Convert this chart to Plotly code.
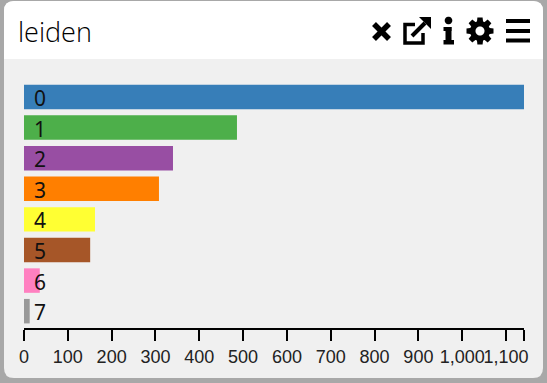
import math
import plotly.graph_objects as go

W, H = 547, 383
categories = ["0", "1", "2", "3", "4", "5", "6", "7"]
values = [1141, 486, 340, 308, 162, 151, 36, 13]
colors = ["#377eb8", "#4daf4a", "#984ea3", "#ff7f00", "#ffff33", "#a65628", "#ff80c0", "#999999"]
tick_vals = [0, 100, 200, 300, 400, 500, 600, 700, 800, 900, 1000, 1100, 1141]
tick_text = ["0", "100", "200", "300", "400", "500", "600", "700", "800", "900", "1,000", "1,100", ""]
title = "leiden"

def px(x): return x / W
def py(y): return 1 - y / H
def P(x, y): return f"{px(x):.5f} {py(y):.5f}"

def rounded(x0, y0, x1, y1, tl, tr, br, bl):
    return (f"M {P(x0+tl,y0)} L {P(x1-tr,y0)} Q {P(x1,y0)} {P(x1,y0+tr)} "
            f"L {P(x1,y1-br)} Q {P(x1,y1)} {P(x1-br,y1)} "
            f"L {P(x0+bl,y1)} Q {P(x0,y1)} {P(x0,y1-bl)} "
            f"L {P(x0,y0+tl)} Q {P(x0,y0)} {P(x0+tl,y0)} Z")

def shape_path(d, fill=None, line=None, w=0):
    return dict(type="path", xref="paper", yref="paper", path=d, layer="below",
                fillcolor=fill or "rgba(0,0,0,0)",
                line=dict(color=line or "rgba(0,0,0,0)", width=w))

def seg(x0, y0, x1, y1, w=4, cap=None):
    return shape_path(f"M {P(x0,y0)} L {P(x1,y1)}", line="#000", w=w)

def rect(x0, y0, x1, y1, fill):
    return shape_path(f"M {P(x0,y0)} L {P(x1,y0)} L {P(x1,y1)} L {P(x0,y1)} Z", fill=fill)

def poly(points, fill="#000"):
    return shape_path("M " + " L ".join(P(a, b) for a, b in points) + " Z", fill=fill)

def circle(cx, cy, r, fill):
    pts = [(cx + r*math.cos(i*math.pi/16), cy + r*math.sin(i*math.pi/16)) for i in range(32)]
    return poly(pts, fill)

shapes = []
# card
shapes.append(shape_path(rounded(4, 1, 543, 378, 10, 10, 10, 10), fill="#f0f0f0"))
shapes.append(shape_path(rounded(4, 1, 543, 59, 10, 10, 0, 0), fill="#ffffff"))
# close
shapes.append(seg(374, 24, 389, 39, 5.5))
shapes.append(seg(389, 24, 374, 39, 5.5))
# external link
shapes.append(shape_path(f"M {P(415,24.5)} L {P(405,24.5)} L {P(405,43)} L {P(423,43)} L {P(423,33)}", line="#000", w=3.5))
shapes.append(seg(412, 36, 425, 23, 4))
shapes.append(poly([(419, 17), (431, 17), (431, 29)]))
# info
shapes.append(circle(448.5, 20.5, 3.8, "#000"))
shapes.append(rect(443.5, 27, 451.5, 31, "#000"))
shapes.append(rect(445.5, 27, 451.5, 41, "#000"))
shapes.append(rect(443.5, 40, 454, 44.5, "#000"))
# gear
gx, gy = 480, 31
for k in range(8):
    a = k * math.pi / 4
    c, s = math.cos(a), math.sin(a)
    shapes.append(poly([(gx + 8*c - 3.2*s, gy + 8*s + 3.2*c), (gx + 13.5*c - 2.6*s, gy + 13.5*s + 2.6*c),
                        (gx + 13.5*c + 2.6*s, gy + 13.5*s - 2.6*c), (gx + 8*c + 3.2*s, gy + 8*s - 3.2*c)]))
shapes.append(circle(gx, gy, 10, "#000"))
shapes.append(circle(gx, gy, 4.5, "#ffffff"))
# menu
for yy in (21, 31, 40.5):
    shapes.append(rect(506, yy - 2, 530, yy + 2, "#000"))

fig = go.Figure()
fig.add_trace(go.Bar(
    x=values, y=categories, orientation="h",
    marker=dict(color=colors, line=dict(width=0)),
    width=0.8, hoverinfo="skip",
))
annotations = [
    dict(x=0, y=c, xref="x", yref="y", text=c, showarrow=False, xanchor="left", xshift=8, yshift=-1,
         font=dict(family="Noto Sans", size=21, color="#111"))
    for c in categories
]
annotations.append(dict(x=px(16), y=py(32), xref="paper", yref="paper", text=title, showarrow=False,
                        xanchor="left", yanchor="middle",
                        font=dict(family="Open Sans", size=27, color="#000", weight=300)))
fig.update_layout(
    width=W, height=H, margin=dict(l=0, r=0, t=0, b=0, pad=0), autosize=False,
    paper_bgcolor="#a8a8a8", plot_bgcolor="rgba(0,0,0,0)", showlegend=False,
    shapes=shapes, annotations=annotations,
    xaxis=dict(domain=[px(24), px(524)], range=[0, 1141], tickmode="array", tickvals=tick_vals, ticktext=tick_text,
               showgrid=False, zeroline=False, showline=True, linecolor="#000", linewidth=2,
               ticks="outside", ticklen=11, tickwidth=2, tickcolor="#000", anchor="y",
               automargin=False, tickangle=0,
               tickfont=dict(family="Liberation Sans", size=18, color="#222")),
    yaxis=dict(domain=[py(328), py(81.7)], range=[7.55, -0.5], type="category", categoryorder="array",
               categoryarray=categories, showticklabels=False, showgrid=False, zeroline=False, ticks="",
               showline=False, automargin=False),
)
fig.write_html("out.html", config=dict(displayModeBar=False, staticPlot=True),
               post_script="document.body.style.margin='0';document.body.style.overflow='hidden';document.body.style.background='#a8a8a8';")
